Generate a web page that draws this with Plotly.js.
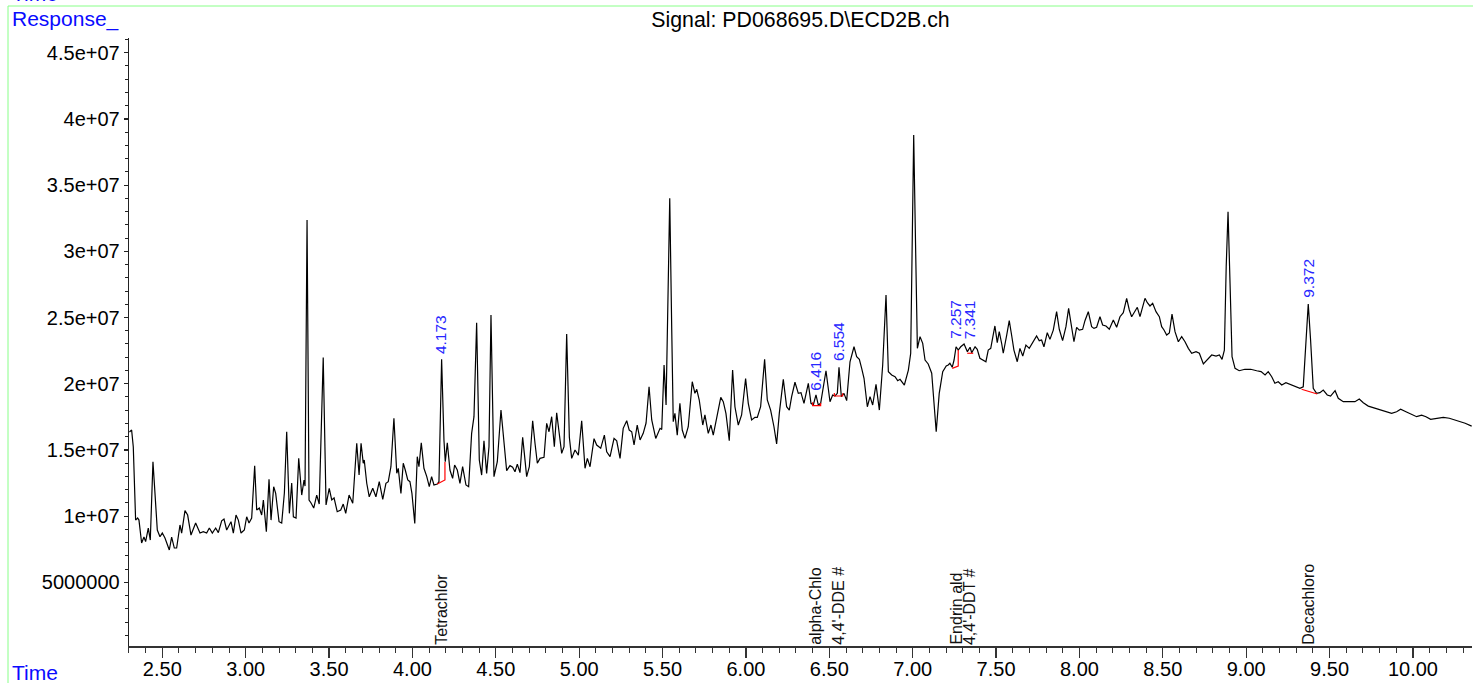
<!DOCTYPE html>
<html>
<head>
<meta charset="utf-8">
<script src="https://cdn.plot.ly/plotly-3.0.1.min.js"></script>
<style>
html,body{margin:0;padding:0;background:#fff;}
#chart{width:1473px;height:683px;}
</style>
</head>
<body>
<div id="chart"></div>
<script>
// Retention time (min)
const timeMin = [
2.303,2.316,2.326,2.340,2.352,2.360,2.376,2.390,2.400,2.416,2.428,2.444,2.456,2.470,2.486,2.500,2.516,2.542,2.556,2.572,
2.586,2.606,2.616,2.636,2.652,2.672,2.700,2.726,2.746,2.766,2.782,2.800,2.820,2.836,2.856,2.870,2.886,2.912,2.926,2.942,
2.956,2.972,2.992,3.006,3.020,3.036,3.054,3.066,3.082,3.096,3.106,3.124,3.140,3.152,3.168,3.180,3.200,3.216,3.232,3.246,
3.262,3.276,3.286,3.302,3.318,3.336,3.350,3.356,3.368,3.380,3.392,3.408,3.426,3.441,3.465,3.482,3.501,3.516,3.530,3.549,
3.570,3.585,3.600,3.620,3.642,3.666,3.680,3.692,3.705,3.711,3.726,3.741,3.762,3.781,3.801,3.822,3.841,3.855,3.871,3.889,
3.906,3.915,3.931,3.945,3.957,3.972,3.985,3.997,4.014,4.029,4.039,4.053,4.069,4.086,4.101,4.115,4.129,4.149,4.159,4.175,
4.189,4.197,4.209,4.225,4.241,4.253,4.269,4.285,4.301,4.321,4.337,4.355,4.369,4.385,4.401,4.415,4.429,4.445,4.459,4.471,
4.489,4.509,4.531,4.549,4.565,4.585,4.601,4.615,4.629,4.645,4.661,4.671,4.685,4.701,4.721,4.735,4.749,4.765,4.789,4.805,
4.819,4.835,4.851,4.865,4.881,4.895,4.909,4.925,4.941,4.955,4.975,4.995,5.015,5.035,5.049,5.065,5.089,5.105,5.129,5.151,
5.165,5.185,5.209,5.225,5.245,5.264,5.285,5.300,5.315,5.329,5.348,5.365,5.384,5.401,5.419,5.435,5.459,5.485,5.495,5.509,
5.521,5.533,5.543,5.555,5.564,5.574,5.588,5.604,5.618,5.634,5.654,5.678,5.694,5.705,5.720,5.741,5.754,5.774,5.790,5.804,
5.824,5.849,5.864,5.880,5.900,5.920,5.934,5.954,5.974,5.998,6.014,6.034,6.054,6.068,6.088,6.112,6.128,6.148,6.168,6.184,
6.200,6.224,6.244,6.260,6.274,6.294,6.314,6.330,6.348,6.374,6.390,6.404,6.420,6.434,6.448,6.480,6.504,6.520,6.534,6.548,
6.558,6.572,6.588,6.604,6.624,6.648,6.664,6.680,6.694,6.708,6.728,6.744,6.760,6.780,6.800,6.820,6.840,6.854,6.874,6.894,
6.910,6.924,6.950,6.974,6.988,6.998,7.006,7.018,7.028,7.044,7.060,7.074,7.093,7.114,7.128,7.141,7.159,7.180,7.201,7.213,
7.223,7.237,7.248,7.260,7.273,7.288,7.308,7.328,7.344,7.354,7.374,7.387,7.403,7.428,7.439,7.453,7.468,7.480,7.493,7.507,
7.519,7.534,7.543,7.564,7.579,7.593,7.607,7.627,7.643,7.660,7.679,7.699,7.719,7.743,7.759,7.773,7.787,7.807,7.823,7.843,
7.863,7.879,7.899,7.919,7.935,7.953,7.967,7.983,7.999,8.019,8.033,8.053,8.073,8.087,8.103,8.123,8.139,8.159,8.179,8.203,
8.223,8.243,8.263,8.283,8.299,8.313,8.333,8.347,8.363,8.379,8.393,8.407,8.423,8.439,8.459,8.479,8.493,8.507,8.523,8.539,
8.555,8.573,8.593,8.613,8.633,8.653,8.673,8.699,8.719,8.743,8.767,8.793,8.819,8.839,8.855,8.869,8.880,8.891,8.903,8.915,
8.933,8.958,8.992,9.027,9.063,9.089,9.113,9.132,9.153,9.172,9.192,9.213,9.238,9.262,9.292,9.322,9.342,9.358,9.372,9.386,
9.402,9.422,9.442,9.462,9.486,9.506,9.533,9.552,9.582,9.622,9.652,9.678,9.702,9.732,9.772,9.812,9.842,9.872,9.902,9.926,
9.958,9.992,10.022,10.052,10.078,10.106,10.142,10.182,10.218,10.252,10.282,10.313,10.352
];
// Detector response (millions of counts)
const responseMillions = [
16.35,16.50,15.22,9.70,9.86,9.70,7.97,8.42,8.07,9.10,8.19,14.11,11.74,8.95,8.44,8.72,8.35,7.44,8.42,7.59,
7.59,9.33,8.72,10.41,10.08,8.57,9.48,8.72,8.82,8.72,9.10,8.72,9.10,8.75,9.65,9.78,8.95,9.58,8.72,10.08,
9.70,8.72,8.95,9.95,9.48,9.86,13.81,10.46,10.61,10.08,11.22,8.82,12.78,9.70,12.22,11.72,9.58,9.48,11.74,16.37,
10.21,12.50,9.95,9.86,14.37,11.59,12.73,12.27,32.36,11.22,10.99,10.61,11.59,10.91,21.98,10.84,12.10,11.22,11.37,10.33,
10.46,10.91,10.21,11.59,10.97,15.50,13.10,15.50,13.99,14.24,12.48,11.46,12.10,11.46,12.60,11.27,12.48,12.60,13.73,17.39,
13.23,13.61,11.72,13.99,13.48,12.73,12.60,11.72,9.45,14.49,13.73,15.54,13.61,12.98,12.22,12.98,12.35,12.42,12.60,21.84,
15.75,14.11,15.54,13.48,12.85,13.86,13.48,12.48,13.73,12.35,12.22,16.25,17.51,24.61,14.24,13.10,15.69,13.23,15.24,25.19,
12.98,14.11,18.01,15.75,13.43,13.81,13.69,13.35,13.93,13.28,15.96,14.74,12.98,13.73,17.20,15.50,13.99,14.36,14.44,17.01,
16.37,17.51,15.24,17.81,15.96,14.74,15.24,23.75,15.96,14.36,14.99,14.61,17.20,13.61,14.36,13.73,15.85,15.37,15.12,16.12,
14.86,14.49,15.87,15.69,14.36,16.63,17.20,16.50,16.37,15.37,16.88,15.75,16.25,17.03,19.77,17.26,15.87,16.63,16.55,21.41,
18.39,27.08,34.00,24.05,17.13,17.76,16.12,18.52,16.50,15.87,16.75,20.15,19.27,19.58,18.77,16.88,17.64,16.25,16.88,16.12,
17.51,18.97,18.64,17.76,15.69,21.03,18.26,16.88,17.64,20.38,18.52,17.26,17.46,17.46,18.26,21.84,18.77,18.01,16.75,15.45,
17.76,20.33,18.26,18.01,19.02,20.11,19.27,19.32,18.52,20.03,18.52,18.39,19.15,18.39,18.52,20.98,18.64,19.15,19.07,19.27,
21.24,19.02,19.27,18.72,21.66,22.79,22.04,21.84,21.16,20.41,18.26,19.02,18.39,19.95,18.01,21.41,26.70,20.91,20.66,20.53,
20.23,20.33,19.90,21.03,22.30,32.36,38.78,29.85,22.67,23.55,23.05,21.79,21.49,20.79,18.52,16.37,19.27,20.91,21.34,21.41,
21.54,21.24,21.79,22.79,22.54,22.79,23.00,22.42,22.75,22.34,22.79,22.60,21.92,21.74,21.66,22.54,22.67,23.50,24.36,23.10,
23.93,23.00,22.30,23.68,24.76,23.68,22.54,21.66,22.67,22.09,22.92,22.67,23.05,23.60,23.25,23.30,22.79,23.85,23.35,24.05,
25.44,24.11,23.25,24.31,25.69,24.05,23.17,24.26,24.05,24.11,24.76,25.44,24.31,24.18,24.26,25.06,24.43,24.36,24.11,24.81,
24.26,25.06,25.36,26.45,25.57,25.06,25.44,25.77,25.06,25.82,26.45,26.12,25.87,26.07,25.44,25.06,24.31,24.06,23.68,23.83,
25.26,23.93,23.17,23.55,23.17,22.67,22.30,22.42,22.30,21.49,21.84,22.17,22.09,22.17,21.84,22.54,28.84,32.99,27.58,22.04,
21.16,20.98,21.09,21.09,20.98,20.91,20.66,20.91,20.53,20.03,20.15,19.90,20.07,19.95,19.83,19.65,19.77,23.30,26.02,23.30,
19.65,19.27,19.32,19.52,19.15,19.07,19.47,18.90,18.64,18.64,18.64,18.84,18.56,18.31,18.14,17.96,17.88,17.76,17.88,18.07,
17.88,17.71,17.51,17.63,17.51,17.31,17.39,17.46,17.39,17.26,17.13,17.01,16.80
];

// Integration baselines (red): one segment list per integrated peak
const baselineTimes = [
  [4.149, 4.195, 4.195],
  [6.400, 6.400, 6.448, 6.448],
  [6.530, 6.530, 6.580, 6.580],
  [7.237, 7.273, 7.273],
  [7.327, 7.363],
  [9.332, 9.426]
];
const baselineValues = [
  [12.42, 12.73, 14.09],
  [18.60, 18.34, 18.34, 18.55],
  [19.30, 19.07, 19.07, 19.28],
  [21.16, 21.34, 22.54],
  [22.30, 22.30],
  [19.58, 19.22]
];

// Integrated peaks: retention time label and apex value
const peakLabels = ["4.173", "6.416", "6.554", "7.257", "7.341", "9.372"];
const peakTimes = [4.173, 6.416, 6.554, 7.257, 7.341, 9.372];
const peakApex = [21.84, 19.15, 21.24, 22.79, 22.75, 26.02];
const peakShift = [3, 2, 4, 6, 6, 4];

// Compound names at expected retention times
const compoundNames = ["Tetrachlor", "alpha-Chlo", "4,4'-DDE #", "Endrin ald", "4,4'-DDT #", "Decachloro"];
const compoundTimes = [4.173, 6.416, 6.550, 7.257, 7.341, 9.372];

// Y-axis ticks (millions)
const yTickVals = [5, 10, 15, 20, 25, 30, 35, 40, 45];
const yTickText = ["5000000", "1e+07", "1.5e+07", "2e+07", "2.5e+07", "3e+07", "3.5e+07", "4e+07", "4.5e+07"];

const FONT = "Liberation Sans, Arial, Helvetica, sans-serif";
const traces = [{
  x: timeMin, y: responseMillions, type: "scatter", mode: "lines",
  line: {color: "#000000", width: 1.2}, hoverinfo: "skip"
}];
baselineTimes.forEach((bt, i) => {
  traces.push({x: bt, y: baselineValues[i], type: "scatter", mode: "lines",
    line: {color: "#ff0000", width: 1.2}, hoverinfo: "skip"});
});

const L = 129, R = 1472, T = 38, B = 646;
const px = X => (X - L) / (R - L);
const py = Y => (B - Y) / (B - T);

const annotations = [];
peakLabels.forEach((lab, i) => {
  annotations.push({x: peakTimes[i], y: peakApex[i], xref: "x", yref: "y", text: lab,
    showarrow: false, textangle: -90, xanchor: "center", yanchor: "bottom", yshift: peakShift[i],
    font: {family: FONT, size: 15.5, color: "#2727ff"}});
});
compoundNames.forEach((nm, i) => {
  annotations.push({x: compoundTimes[i], y: 0, xref: "x", yref: "paper", text: nm,
    showarrow: false, textangle: -90, xanchor: "center", yanchor: "bottom", yshift: -1,
    font: {family: FONT, size: 16, color: "#111111"}});
});
annotations.push({x: px(10), y: py(19), xref: "paper", yref: "paper", text: "Response_",
  showarrow: false, xanchor: "left", yanchor: "middle", font: {family: FONT, size: 21, color: "#0a0aff"}});
annotations.push({x: px(10), y: py(672), xref: "paper", yref: "paper", text: "Time",
  showarrow: false, xanchor: "left", yanchor: "middle", font: {family: FONT, size: 21, color: "#0a0aff"}});
annotations.push({x: px(10), y: py(-6), xref: "paper", yref: "paper", text: "Time",
  showarrow: false, xanchor: "left", yanchor: "middle", font: {family: FONT, size: 21, color: "#0a0aff"}});

const shapes = [
  {type: "line", xref: "paper", yref: "paper", x0: px(8), x1: px(1473), y0: py(6), y1: py(6),
   line: {color: "#88ff88", width: 1}},
  {type: "line", xref: "paper", yref: "paper", x0: px(8), x1: px(8), y0: py(6), y1: py(690),
   line: {color: "#88ff88", width: 1}}
];

const layout = {
  width: 1473, height: 683,
  margin: {l: L, r: 1473 - R, t: T, b: 683 - B, pad: 0},
  paper_bgcolor: "#ffffff", plot_bgcolor: "#ffffff",
  showlegend: false, hovermode: false,
  font: {family: FONT, size: 20, color: "#000000"},
  title: {text: "Signal: PD068695.D\\ECD2B.ch", x: 0.5, xref: "paper", xanchor: "center",
    y: 1 - 20 / 683, yref: "container", yanchor: "middle",
    font: {family: FONT, size: 21.3, color: "#000000"}},
  xaxis: {
    range: [2.3003, 10.354], showgrid: false, zeroline: false,
    showline: true, linecolor: "#333333", linewidth: 1.5,
    ticks: "outside", ticklen: 10, tickwidth: 1.3, tickcolor: "#333333",
    tick0: 2.5, dtick: 0.5, tickformat: ".2f", ticklabelstandoff: -6,
    tickfont: {family: FONT, size: 20, color: "#000000"},
    minor: {dtick: 0.1, ticks: "outside", ticklen: 5, tickwidth: 1, tickcolor: "#333333", showgrid: false}
  },
  yaxis: {
    range: [0.19, 46.11], showgrid: false, zeroline: false,
    showline: true, linecolor: "#222222", linewidth: 1.3,
    ticks: "outside", ticklen: 4, tickwidth: 1.2, tickcolor: "#222222",
    tickmode: "array", tickvals: yTickVals, ticktext: yTickText,
    tickfont: {family: FONT, size: 20, color: "#000000"},
    minor: {dtick: 1, tick0: 0, ticks: "outside", ticklen: 2.5, tickwidth: 1, tickcolor: "#222222", showgrid: false}
  },
  annotations: annotations,
  shapes: shapes
};

Plotly.newPlot("chart", traces, layout, {staticPlot: true, displayModeBar: false});
</script>
</body>
</html>
